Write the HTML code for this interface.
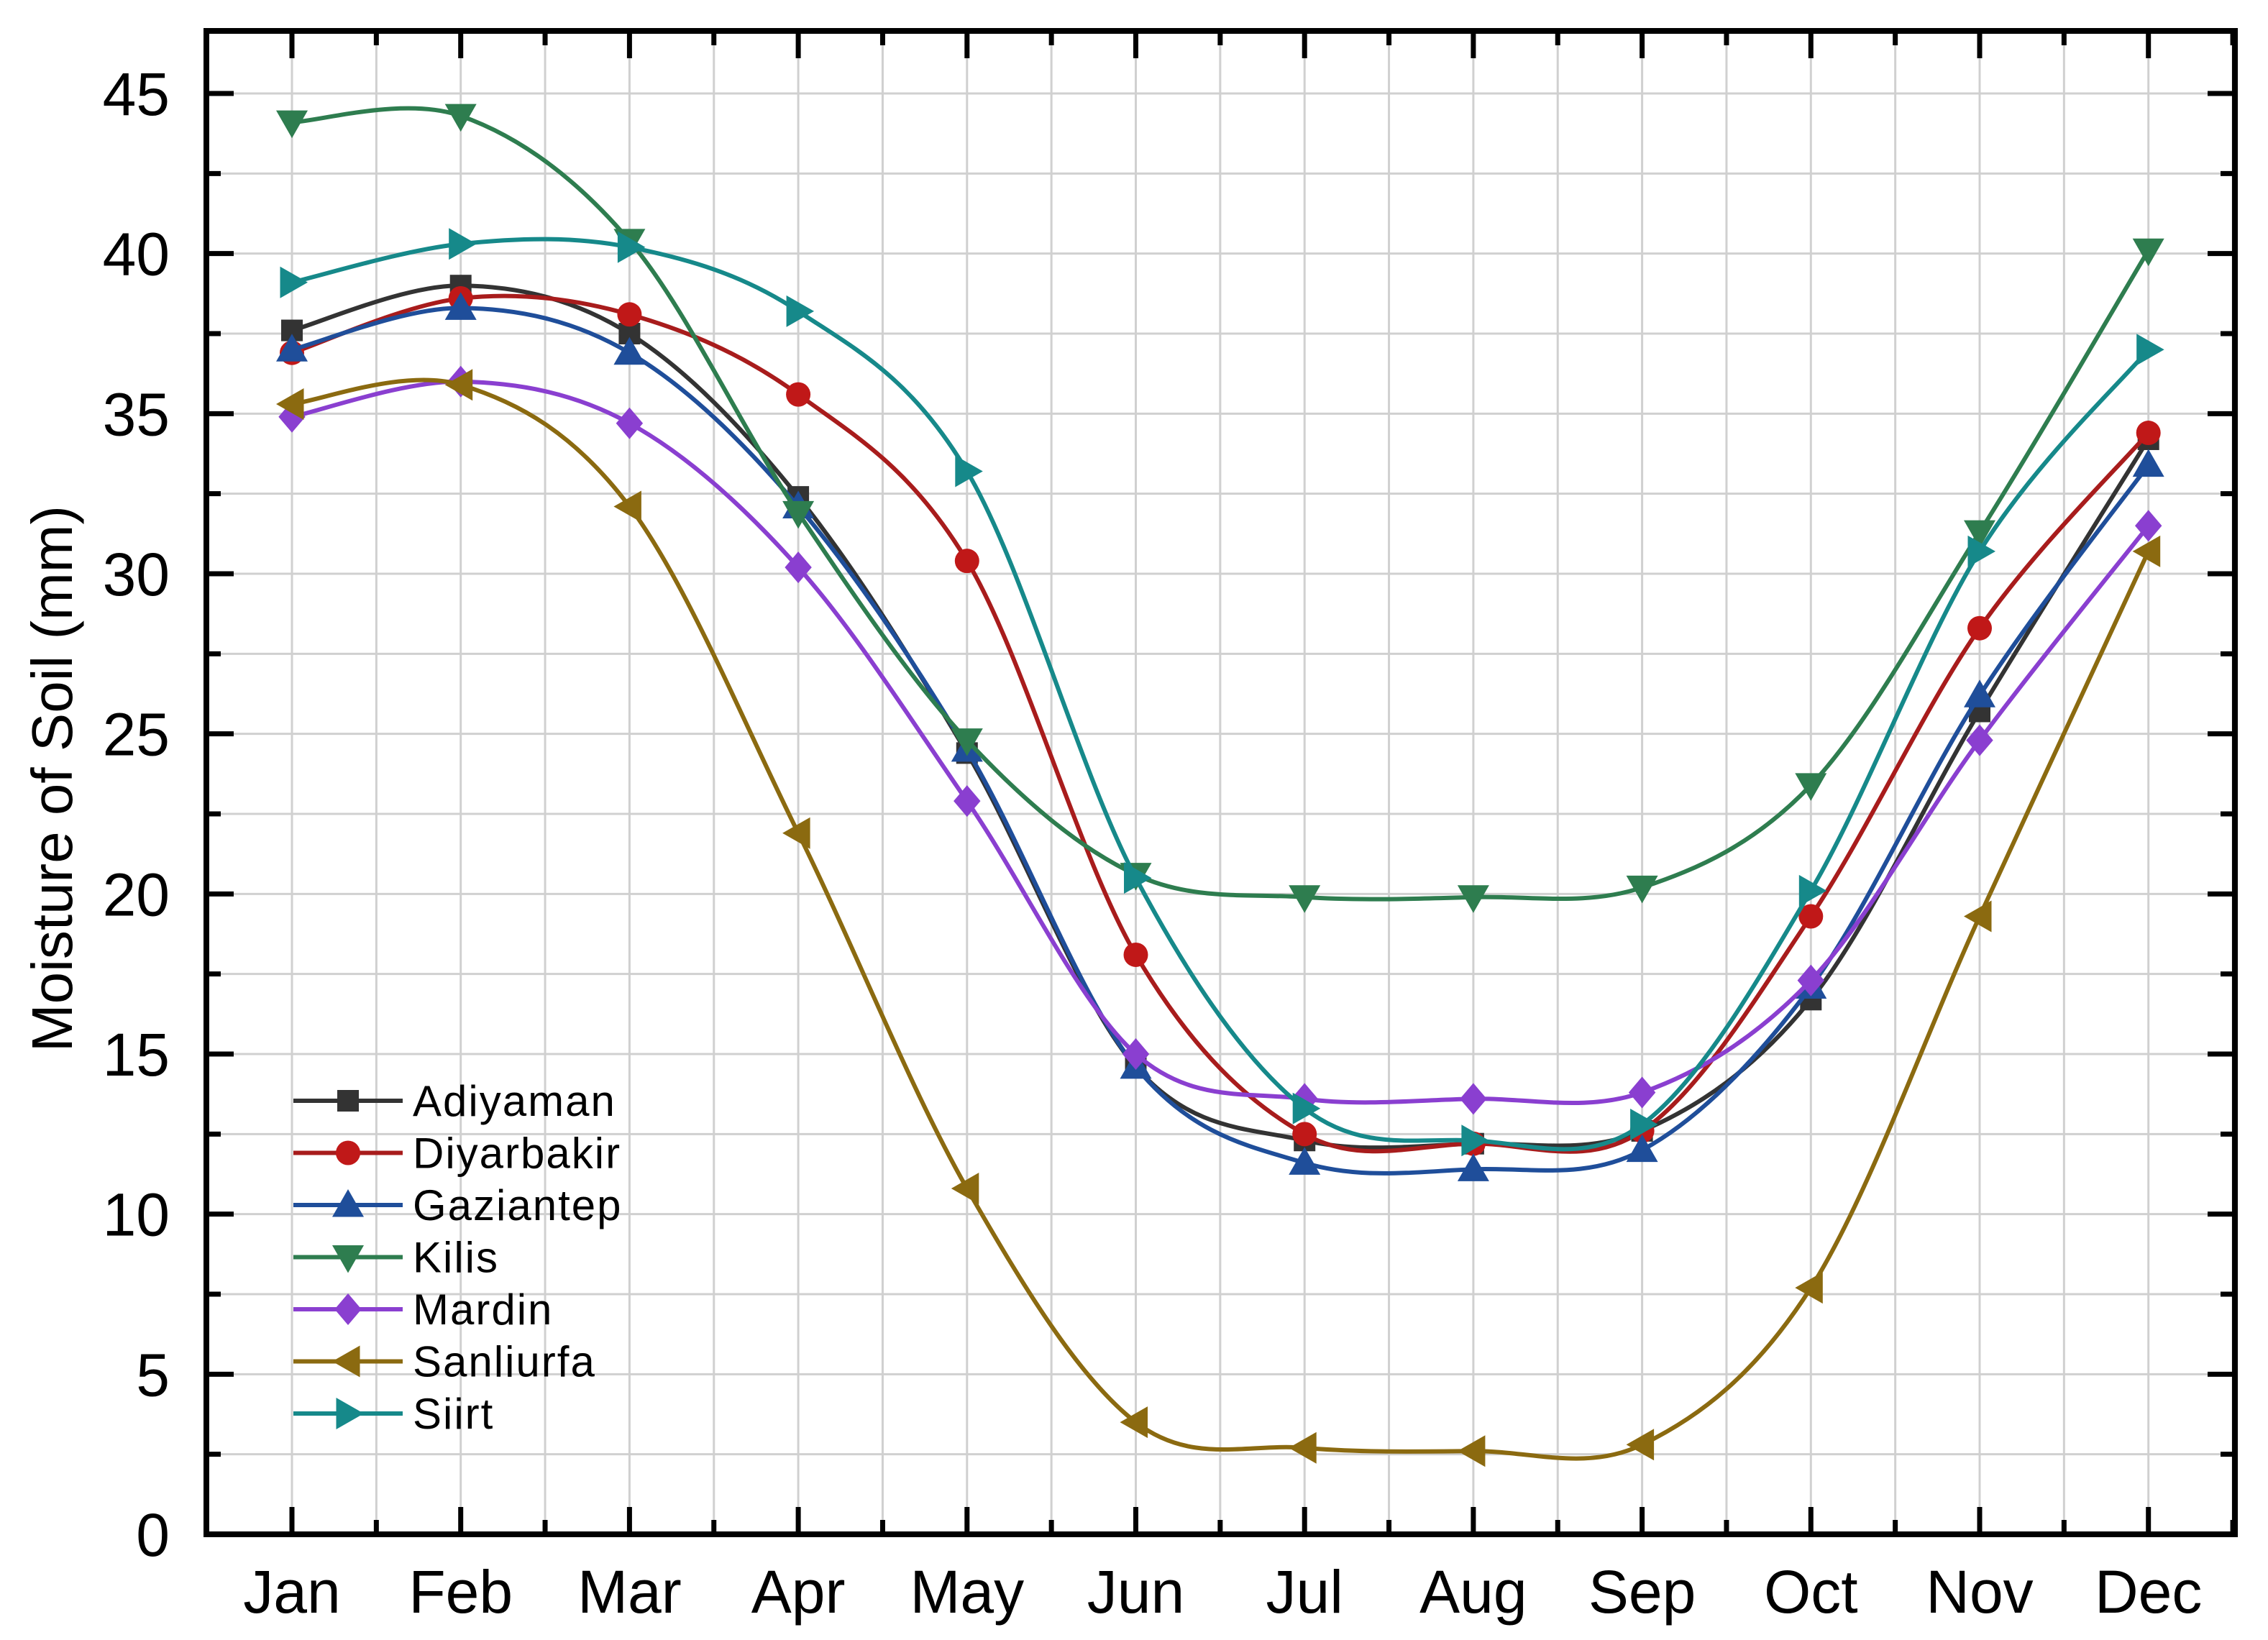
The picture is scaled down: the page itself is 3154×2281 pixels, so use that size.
<!DOCTYPE html>
<html><head><meta charset="utf-8"><style>
html,body{margin:0;padding:0;background:#fff;}
svg{display:block;font-family:"Liberation Sans",Arial,sans-serif;}
</style></head><body>
<svg id="chart" width="3154" height="2281" viewBox="0 0 3154 2281" xmlns="http://www.w3.org/2000/svg">
<rect x="0" y="0" width="3154" height="2281" fill="#fff"/>
<g id="grid"></g>
<g id="series"></g>
<g id="axes"></g>
<g id="legend"></g>
<text x="0" y="0" transform="translate(100,1083) rotate(-90)" text-anchor="middle" font-size="80" fill="#000">Moisture of Soil (mm)</text>
</svg>
<script>
const months = ["Jan","Feb","Mar","Apr","May","Jun","Jul","Aug","Sep","Oct","Nov","Dec"];
const yTicks = [0,5,10,15,20,25,30,35,40,45];
const seriesNames = ["Adiyaman","Diyarbakir","Gaziantep","Kilis","Mardin","Sanliurfa","Siirt"];
const adiyaman = [37.6,39.0,37.5,32.4,24.4,14.6,12.3,12.2,12.6,16.7,25.7,34.2];
const diyarbakir = [36.9,38.6,38.1,35.6,30.4,18.1,12.5,12.2,12.6,19.3,28.3,34.4];
const gaziantep = [37.0,38.3,36.9,32.1,24.5,14.6,11.6,11.4,12.0,17.1,26.2,33.4];
const kilis = [44.1,44.3,40.4,31.9,24.8,20.6,19.9,19.9,20.2,23.4,31.3,40.1];
const mardin = [34.9,36.0,34.7,30.2,22.9,15.0,13.6,13.6,13.8,17.3,24.8,31.5];
const sanliurfa = [35.3,35.9,32.1,21.9,10.8,3.5,2.7,2.6,2.8,7.7,19.3,30.7];
const siirt = [39.1,40.3,40.2,38.2,33.2,20.5,13.3,12.3,12.8,20.1,30.7,37.0];

const NS="http://www.w3.org/2000/svg";
const L=287,R=3108,T=43,B=2134;
const x0=406, dx=234.7;
const X=i=>x0+i*dx;
function Yv(v){return 2134 - v*(2134-130)/45;}
function mk(tag,attrs,parent){const e=document.createElementNS(NS,tag);for(const k in attrs)e.setAttribute(k,attrs[k]);parent.appendChild(e);return e;}
const grid=document.getElementById('grid'),axes=document.getElementById('axes'),sg=document.getElementById('series'),lg=document.getElementById('legend');

for(let i=-0.5;i<=11.5;i+=0.5){const x=X(i);if(x<=L+2||x>=R-2)continue;
 const g=mk('line',{x1:x,x2:x,y1:T,y2:B,stroke:'#d0d0d0','stroke-width':3},grid);
 
 }
for(let v=2.5;v<47;v+=2.5){const y=Yv(v);if(y<=T+2)continue;
 const g=mk('line',{x1:L,x2:R,y1:y,y2:y,stroke:'#d0d0d0','stroke-width':3},grid);
 
 }

const fr=mk('rect',{x:L,y:T,width:R-L,height:B-T,fill:'none',stroke:'#000','stroke-width':8},axes);


for(let i=-0.5;i<=11.5;i+=0.5){const x=X(i);if(x<=L+2||x>=R-2)continue;
 const major=Number.isInteger(i);const len=major?38:20;
 mk('line',{x1:x,x2:x,y1:B,y2:B-len,stroke:'#000','stroke-width':7},axes);
 mk('line',{x1:x,x2:x,y1:T,y2:T+len,stroke:'#000','stroke-width':7},axes);}
months.forEach((m,i)=>{const t=mk('text',{x:X(i),y:2243,'text-anchor':'middle','font-size':84,fill:'#000'},axes);t.textContent=m;
 
 });
for(let v=2.5;v<47;v+=2.5){const y=Yv(v);if(y<=T+2)continue;const major=(v%5===0);const len=major?38:20;
 mk('line',{x1:L,x2:L+len,y1:y,y2:y,stroke:'#000','stroke-width':7},axes);
 mk('line',{x1:R,x2:R-len,y1:y,y2:y,stroke:'#000','stroke-width':7},axes);}
yTicks.forEach(v=>{const t=mk('text',{x:236,y:Yv(v)+30,'text-anchor':'end','font-size':84,fill:'#000'},axes);t.textContent=v;
 
 });

const colors=["#333333","#c01818","#1f4e9a","#2e7d4f","#8a3fd0","#8b6a10","#16898a"];
const lineColors=["#333333","#a81c1c","#1f4e9a","#2e7d4f","#8a3fd0","#8b6a10","#16898a"];
const shapes=["square","circle","up","down","diamond","left","right"];
const allData=[adiyaman,diyarbakir,gaziantep,kilis,mardin,sanliurfa,siirt];

function marker(shape,cx,cy,c,parent){const s=15;let e;
 if(shape==='square')e=mk('rect',{x:cx-s,y:cy-s,width:2*s,height:2*s,fill:c},parent);
 else if(shape==='circle')e=mk('circle',{cx:cx,cy:cy,r:s+2,fill:c},parent);
 else{let p;const r=22;
  if(shape==='up')p=[[cx,cy-r],[cx+r,cy+r*0.75],[cx-r,cy+r*0.75]];
  if(shape==='down')p=[[cx,cy+r],[cx+r,cy-r*0.75],[cx-r,cy-r*0.75]];
  if(shape==='left')p=[[cx-r,cy],[cx+r*0.75,cy-r],[cx+r*0.75,cy+r]];
  if(shape==='right')p=[[cx+r,cy],[cx-r*0.75,cy-r],[cx-r*0.75,cy+r]];
  if(shape==='diamond')p=[[cx,cy-r],[cx+r*0.85,cy],[cx,cy+r],[cx-r*0.85,cy]];
  e=mk('polygon',{points:p.map(q=>q.join(',')).join(' '),fill:c},parent);}
 return e;}

function spline(pts){let d=`M${pts[0][0]},${pts[0][1]}`;
 for(let i=0;i<pts.length-1;i++){const p0=pts[Math.max(0,i-1)],p1=pts[i],p2=pts[i+1],p3=pts[Math.min(pts.length-1,i+2)];
  const c1=[p1[0]+(p2[0]-p0[0])/6,p1[1]+(p2[1]-p0[1])/6],c2=[p2[0]-(p3[0]-p1[0])/6,p2[1]-(p3[1]-p1[1])/6];
  d+=` C${c1[0]},${c1[1]} ${c2[0]},${c2[1]} ${p2[0]},${p2[1]}`;}
 return d;}

allData.forEach((data,si)=>{
 const g=mk('g',{},sg);
 
 
 const pts=data.map((v,i)=>[X(i),Yv(v)]);
 const p=mk('path',{d:spline(pts),fill:'none',stroke:lineColors[si],'stroke-width':6},g);
 
 
 pts.forEach(q=>{const m=marker(shapes[si],q[0],q[1],colors[si],g);
  
  });
 const ly=1531+si*72.5;
 const le=mk('g',{},lg);
 
 
 mk('line',{x1:408,x2:560,y1:ly,y2:ly,stroke:lineColors[si],'stroke-width':6},le);
 marker(shapes[si],484,ly,colors[si],le);
 const t=mk('text',{x:574,y:ly+21,'font-size':60,'letter-spacing':2,fill:'#000'},le);t.textContent=seriesNames[si];
});
</script>
</body></html>
